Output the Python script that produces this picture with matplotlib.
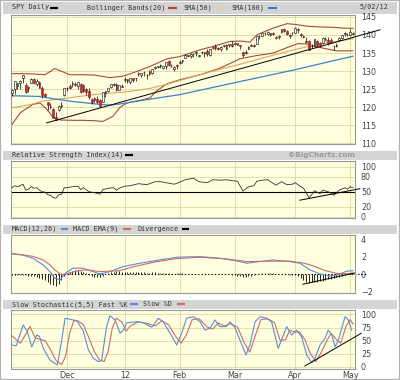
import numpy as np
import matplotlib
matplotlib.use('Agg')
import matplotlib.pyplot as plt
from matplotlib.lines import Line2D
from matplotlib.patches import Rectangle

plt.rcParams['font.family'] = ['DejaVu Sans']

# SPY daily, trading days Nov 2 2011 .. May 2 2012 (index 0..124)
opens = [123.9, 125.1, 126.0, 126.6, 128.0, 126.2, 125.4, 126.7, 127.8, 126.5,
         126.9, 125.4, 123.7, 121.4, 120.3, 119.5, 117.3, 119.3, 120.4, 123.3,
         125.2, 126.0, 126.8, 126.2, 125.9, 126.4, 124.6, 125.0, 124.5, 122.3,
         122.6, 122.4, 122.1, 121.6, 124.0, 124.6, 125.6, 126.2, 126.5, 124.9,
         125.8, 127.8, 127.2, 127.0, 128.2, 128.0, 129.4, 128.8, 129.8, 128.9,
         130.1, 129.5, 130.8, 131.0, 131.4, 130.9, 131.3, 132.8, 131.3, 130.6,
         131.8, 132.2, 132.8, 133.6, 134.1, 134.2, 134.7, 135.1, 134.1, 135.2,
         134.9, 135.5, 134.5, 136.6, 136.8, 136.2, 136.2, 137.1, 136.2, 137.1,
         137.6, 137.5, 137.7, 137.1, 135.3, 135.0, 136.2, 137.0, 137.1, 137.6,
         139.8, 139.8, 140.6, 140.2, 140.1, 140.6, 139.4, 139.3, 140.7, 141.7,
         141.1, 139.6, 140.7, 140.6, 141.6, 140.3, 139.4, 138.0, 138.2, 136.9,
         136.9, 138.4, 137.8, 137.7, 138.9, 138.7, 138.6, 136.9, 137.0, 138.5,
         139.1, 140.2, 140.1, 139.9, 140.2]
highs = [125.0, 127.4, 126.7, 127.5, 129.0, 126.8, 126.0, 128.1, 128.0, 127.8,
         127.3, 125.8, 124.0, 121.5, 121.2, 119.7, 118.6, 120.5, 121.4, 125.4,
         125.6, 126.5, 127.2, 127.0, 127.1, 126.6, 126.4, 125.2, 125.3, 122.6,
         122.9, 123.0, 122.2, 124.2, 124.6, 125.4, 126.4, 126.8, 126.6, 126.1,
         126.3, 128.4, 127.8, 128.2, 128.2, 128.2, 129.7, 129.6, 130.0, 129.3,
         130.3, 130.7, 131.5, 131.5, 132.0, 131.5, 132.5, 133.2, 132.1, 131.3,
         132.1, 133.0, 133.2, 134.7, 134.5, 135.0, 135.0, 135.5, 134.5, 135.5,
         135.2, 136.0, 136.2, 136.8, 137.4, 136.6, 136.8, 137.3, 137.4, 137.6,
         138.2, 138.0, 137.8, 137.3, 135.3, 135.7, 136.8, 137.5, 137.4, 139.7,
         140.1, 140.6, 140.7, 141.2, 140.6, 140.8, 139.7, 139.9, 141.6, 141.8,
         141.3, 140.2, 140.8, 142.2, 142.0, 140.4, 139.9, 139.4, 138.5, 137.4,
         139.0, 138.5, 138.0, 139.4, 139.3, 139.5, 139.2, 137.1, 137.7, 139.3,
         140.1, 140.9, 140.4, 141.6, 140.8]
lows = [123.2, 123.8, 125.0, 125.1, 126.6, 123.9, 124.3, 126.6, 126.3, 125.8,
        125.3, 122.7, 122.8, 119.3, 119.4, 117.0, 116.4, 119.1, 119.9, 123.2,
        124.6, 125.1, 125.7, 125.9, 125.1, 123.9, 124.3, 123.3, 122.2, 121.0,
        121.4, 121.2, 120.0, 121.5, 122.8, 124.3, 125.3, 126.0, 124.6, 124.7,
        125.5, 127.0, 126.7, 126.4, 127.1, 127.4, 128.7, 128.5, 128.7, 127.9,
        128.9, 129.3, 130.5, 130.8, 130.8, 130.6, 130.7, 131.4, 131.1, 130.1,
        130.6, 132.0, 132.3, 133.5, 133.9, 133.7, 134.0, 134.3, 133.9, 134.8,
        134.0, 134.3, 134.3, 136.1, 135.9, 135.7, 135.6, 136.6, 135.8, 136.7,
        136.7, 137.2, 137.1, 136.2, 133.8, 134.8, 136.0, 136.8, 136.7, 137.4,
        139.0, 139.6, 140.1, 140.1, 139.6, 140.0, 138.9, 138.8, 140.5, 140.9,
        139.9, 139.1, 139.9, 140.4, 140.6, 139.3, 139.2, 137.9, 135.8, 136.4,
        136.8, 137.0, 136.7, 137.6, 138.5, 137.2, 137.9, 135.8, 136.7, 138.5,
        138.9, 139.7, 139.6, 139.8, 140.0]
closes = [124.8, 127.2, 126.6, 127.4, 128.9, 124.3, 125.5, 127.9, 126.7, 127.3,
          125.3, 123.3, 123.1, 120.7, 120.2, 117.0, 116.6, 120.3, 120.6, 125.4,
          125.2, 125.2, 126.4, 126.4, 126.9, 124.3, 126.1, 124.1, 122.9, 121.5,
          121.9, 121.6, 120.3, 124.2, 124.4, 125.3, 126.4, 126.5, 124.8, 126.1,
          125.5, 127.5, 127.7, 128.0, 127.6, 128.0, 129.2, 129.5, 129.7, 129.0,
          129.3, 130.6, 131.2, 131.3, 131.5, 131.4, 132.5, 131.8, 131.5, 131.2,
          131.3, 132.6, 132.8, 134.5, 134.4, 134.6, 134.8, 135.2, 134.4, 135.2,
          135.2, 134.6, 136.1, 136.4, 136.4, 136.1, 136.6, 136.8, 137.1, 137.5,
          137.0, 137.7, 137.3, 136.8, 134.4, 135.3, 136.6, 137.1, 137.0, 139.6,
          139.6, 140.4, 140.5, 140.9, 140.4, 140.2, 139.2, 139.7, 141.6, 141.1,
          140.2, 140.0, 140.8, 141.8, 141.3, 139.9, 139.8, 138.2, 135.8, 136.9,
          138.9, 137.1, 137.1, 139.2, 138.7, 137.9, 138.0, 136.8, 137.3, 139.1,
          140.0, 140.4, 139.9, 140.9, 140.6]

month_pos = [20, 41, 61, 81, 103, 123]
month_labels = ['Dec', '12', 'Feb', 'Mar', 'Apr', 'May']

# Bollinger bands(20), SMA(50), SMA(100)
bb_up_x = [-0.4, 4, 8, 12, 15.6, 18.5, 21, 26, 30, 35.6, 40.5, 45, 50.2, 56.4, 61,
           68.4, 73, 79.3, 82.9, 86.5, 89, 95, 100, 103, 107.3, 112, 116.7, 120, 124]
bb_up = [129.3, 129.3, 129.2, 129.0, 130.7, 129.8, 129.0, 129.0, 128.9, 128.2, 128.6,
         129.8, 131.3, 133.4, 134.0, 135.9, 136.8, 138.2, 138.3, 138.0, 140.0, 141.9,
         143.1, 142.9, 142.4, 142.2, 142.1, 141.9, 141.8]
bb_lo_x = [-0.4, 3, 7.6, 10.2, 12.7, 14.9, 17.5, 22, 26, 30, 33, 36.7, 39.3, 41.8,
           46.5, 50.2, 52.7, 56.4, 61, 68.4, 75.6, 82.9, 89, 95, 100, 104, 107, 110,
           114, 118, 124]
bb_lo = [114.8, 118.5, 120.8, 121.2, 119.4, 117.3, 116.5, 116.4, 116.4, 116.3, 116.1,
         117.5, 120.0, 121.2, 121.9, 122.6, 124.6, 126.5, 127.6, 129.0, 130.8, 133.4,
         134.3, 135.0, 136.5, 137.6, 137.5, 136.9, 136.2, 135.6, 135.6]
sma50_x = [-0.4, 7, 11, 18.5, 29.5, 42, 50, 56, 61, 68.4, 75, 82.5, 92, 103, 112, 124]
sma50 = [119.8, 120.8, 121.7, 122.4, 123.5, 124.3, 125.2, 126.3, 127.4, 129.0, 130.4,
         131.8, 133.8, 136.0, 137.5, 138.9]
sma100_x = [-0.4, 10, 14, 21, 32, 36, 40, 48, 61, 80.4, 103, 117, 124]
sma100 = [123.2, 123.0, 122.5, 121.7, 120.8, 120.6, 121.0, 122.0, 123.5, 126.7, 130.4,
          132.9, 134.1]
trend_x = [12.6, 133.8]
trend_y = [115.7, 141.4]

# RSI(14)
rsi_x = [0, 1, 2, 3, 4, 5, 6, 7, 8, 9, 10, 11, 12, 13, 14, 15, 16, 17, 18, 19, 20, 22,
         24, 25, 26, 28, 30, 32, 33, 35, 37, 38, 39, 41, 43, 46, 49, 52, 54, 57, 59, 61,
         63, 66, 68, 71, 73, 76, 78, 80, 82, 84, 86, 88, 89, 91, 93, 96, 98, 100, 102,
         103, 105, 106, 108, 109, 110, 112, 113, 115, 117, 119, 121, 122, 123, 124]
rsi = [58, 62, 60, 62, 65, 53, 55, 60, 57, 58, 53, 50, 49, 44, 43, 38, 37, 44, 45, 58,
       58, 60, 61, 54, 58, 50, 48, 45, 54, 57, 58, 53, 57, 61, 62, 66, 64, 70, 70, 67,
       65, 69, 74, 77, 70, 68, 74, 73, 74, 72, 71, 51, 60, 62, 71, 73, 74, 63, 70, 64,
       65, 68, 60, 57, 38, 44, 52, 46, 53, 50, 43, 53, 58, 55, 60, 58]
rsi_trend_x = [104.7, 126.5]
rsi_trend_y = [33, 56]

# MACD(12,26), EMA(9), divergence
macd_x = [-0.4, 4, 7.6, 11.3, 13.8, 15.6, 17.5, 19.3, 22.2, 25.8, 29.5, 32, 35.6, 40.4,
          46.5, 53.8, 60, 68.4, 75.6, 82.9, 85.5, 90.2, 94.9, 101, 104.7, 108.4, 112,
          115.6, 118.2, 121.8, 124]
macd = [2.35, 2.2, 1.83, 1.07, 0.3, -0.46, -0.66, 0.1, 0.69, 0.69, 0.3, 0.03, 0.3, 0.88,
        1.26, 1.64, 1.95, 2.02, 1.84, 1.45, 1.26, 1.45, 1.64, 1.45, 1.26, 0.49, 0.03,
        -0.2, -0.08, 0.35, 0.4]
signal_x = [-0.4, 7.6, 11.3, 13.8, 15.6, 17.5, 19.3, 21.1, 24, 27.3, 32, 38.9, 44.7,
            52.7, 60, 68.4, 78, 85.5, 94.5, 101, 106.5, 110, 113.5, 118, 122, 124]
signal = [2.4, 2.05, 1.64, 1.07, 0.49, 0.03, -0.08, 0.18, 0.4, 0.5, 0.3, 0.4, 0.9, 1.45,
          1.8, 1.95, 1.75, 1.45, 1.5, 1.5, 1.25, 0.9, 0.45, 0.1, 0.05, 0.15]
divergence = [-0.05, -0.05, -0.08, -0.1, -0.1, -0.12, -0.15, -0.18,
              -0.22, -0.3, -0.4, -0.55, -0.7, -0.9, -1.1, -1.25, -1.3, -1.1, -0.7, -0.25,
              0.1, 0.25, 0.4, 0.5, 0.5, 0.4, 0.25, 0.1,
              -0.1, -0.2, -0.3, -0.35, -0.3, -0.15,
              0.05, 0.15, 0.25, 0.3, 0.35, 0.35, 0.3, 0.3, 0.25, 0.25, 0.2, 0.2, 0.25, 0.2,
              0.2, 0.15, 0.15, 0.2, 0.2, 0.15, 0.15, 0.1, 0.15, 0.1, 0.05, 0.05, 0.1, 0.1,
              0.1, 0.05,
              0.05, 0.05, 0.0, 0.05, 0.0, 0.0, -0.03, 0.0, 0.03, 0.03, 0.0, -0.03, 0.0, 0.0,
              0.03, 0.0, -0.05,
              -0.1, -0.15, -0.2, -0.3, -0.3, -0.25, -0.2, -0.1,
              0.0, 0.05, 0.1, 0.12, 0.12, 0.1, 0.1, 0.05, 0.05,
              0.05, 0.05, 0.0, -0.05, -0.05, -0.1,
              -0.2, -0.4, -0.7, -0.95, -1.0, -0.95, -0.9, -0.85, -0.8, -0.75, -0.65, -0.55,
              -0.5, -0.45, -0.35,
              -0.3, -0.2, -0.1, 0.05, 0.15, 0.1]
macd_trend_x = [105.8, 124.5]
macd_trend_y = [-1.15, 0.13]

# Slow stochastic(5,5)
stk_x = [-0.1, 1.5, 4.1, 5.5, 7.2, 9, 10, 11.4, 13.8, 15.6, 16.5, 18, 19.3, 21, 23.5,
         25.8, 27.8, 29.6, 31.4, 32.6, 34.4, 35.6, 37.5, 39.3, 40.5, 41.7, 45.3, 47.8,
         50.8, 53.2, 55, 57.5, 59.9, 61.7, 63.5, 65.9, 68.4, 70.2, 72, 73.8, 75.6, 78,
         79.3, 81, 82.9, 85.1, 86.5, 88.4, 90.2, 92.6, 94.4, 96.8, 98.7, 99.9, 101.7,
         103.5, 105.3, 107.2, 109, 110.2, 112, 113.8, 115, 116.3, 117.5, 118.7, 121.1,
         122.3, 123.5]
stk = [41.6, 40, 80, 68, 38, 60.7, 58, 35, 12.8, 6.4, 3.3, 48, 92.7, 91, 88, 70, 32, 16,
       9.6, 12.8, 76.6, 97.7, 89.5, 64, 70, 84, 86, 84, 75.5, 92.7, 86, 64, 41.6, 64,
       92.7, 95.8, 86, 70, 73.5, 89.5, 76.6, 77, 86, 75.5, 51, 22.4, 41.6, 86, 95.8,
       92.7, 86, 35, 60.7, 76.6, 60.7, 70, 57.5, 22.4, 7.7, 16, 41.6, 54.4, 70, 60.7,
       38.3, 51, 95.8, 89.5, 70]
std_x = [-0.4, 1.5, 3, 5, 6.5, 8.5, 10.5, 12, 14, 16, 18, 19.5, 21, 22.5, 24, 26, 28,
         30, 32, 33.5, 35, 36.5, 38, 40, 41.5, 43, 46, 49, 52, 54.5, 57, 59.5, 61.5, 63.5,
         65.5, 68, 71, 73, 75, 77, 79.5, 82, 84.5, 86.5, 88.5, 90.5, 93, 95.5, 97.5, 99.5,
         101, 103, 104.5, 106.5, 108.5, 110.5, 112.5, 114.5, 116, 118, 119.5, 121.5, 123,
         124]
std = [61, 52, 45, 62, 77, 55, 52, 50, 33, 12, 4, 20, 65, 88, 88, 80, 55, 28, 12, 10,
       30, 75, 93, 85, 68, 78, 86, 83, 78, 88, 80, 58, 45, 62, 90, 92, 76, 72, 84, 78,
       82, 76, 45, 28, 60, 90, 92, 84, 50, 52, 70, 66, 67, 52, 25, 10, 28, 50, 64, 52,
       45, 78, 90, 82]
stoch_trend_x = [106.5, 127]
stoch_trend_y = [1.3, 64]

# colours
BG = '#ffffe0'
GRID = '#dcd9a4'
BAR = '#d4d4d4'
TXT = '#333333'
BB_C = '#a84a3c'
SMA50_C = '#d9a85a'
SMA100_C = '#3f7fcf'
BLUE = '#5a8ed6'
PINK = '#cc6b6b'

W, H = 400, 380
fig = plt.figure(figsize=(4, 3.8), dpi=100)


def fx(x):
    return x / W


def fy(y):
    return 1 - y / H


def header(y0, y1):
    fig.add_artist(Rectangle((fx(3), fy(y1)), (397 - 3) / W, (y1 - y0) / H,
                             transform=fig.transFigure, facecolor=BAR,
                             edgecolor='none', zorder=0))


def label(x, y, s, **kw):
    fig.text(fx(x), fy(y), s, fontsize=4.85, family='DejaVu Sans Mono',
             color=TXT, va='center', ha='left', zorder=5, **kw)


def swatch(x0, x1, y, c):
    fig.add_artist(Line2D([fx(x0), fx(x1)], [fy(y), fy(y)], transform=fig.transFigure,
                          color=c, lw=1.6, solid_capstyle='butt', zorder=5))


def panel(top, bottom, ylim, yticks, ygrid=True):
    ax = fig.add_axes([fx(11), fy(bottom), (355 - 11) / W, (bottom - top) / H])
    ax.set_facecolor(BG)
    ax.set_xlim(-0.36, 124.73)
    ax.set_ylim(ylim)
    ax.set_yticks(yticks)
    ax.yaxis.tick_right()
    ax.tick_params(axis='y', length=0, pad=4.3, labelsize=5.8, labelcolor='#444444')
    ax.set_xticks(month_pos)
    ax.tick_params(axis='x', length=0, labelbottom=False)
    ax.grid(True, axis='x', color=GRID, lw=0.6)
    if ygrid:
        ax.grid(True, axis='y', color=GRID, lw=0.6)
    ax.set_axisbelow(True)
    for s in ax.spines.values():
        s.set_color('#999999')
        s.set_linewidth(0.8)
    return ax


# outer frame and header bars
fig.add_artist(Rectangle((0, 0), 1, 1, transform=fig.transFigure, facecolor='none',
                         edgecolor='#b4b4b4', lw=1.6, zorder=0))
header(1.5, 13.5)
header(150.5, 159.5)
header(224.5, 233.5)
header(300, 308.5)

# header texts
label(12, 7.5, 'SPY Daily')
swatch(50, 58, 7.5, 'black')
label(87, 7.5, 'Bollinger Bands(20)')
swatch(168, 177, 7.5, BB_C)
label(184, 7.5, 'SMA(50)')
swatch(217, 225, 7.5, '#e8cf8a')
label(232, 7.5, 'SMA(100)')
swatch(268, 277, 7.5, SMA100_C)
label(360, 7.5, '5/02/12')

label(12, 155, 'Relative Strength Index(14)')
swatch(125, 133, 155, 'black')
fig.text(fx(355), fy(155), '\u00a9BigCharts.com', fontsize=5.2, weight='bold',
         color='#9a9a9a', va='center', ha='right', zorder=5)

label(12, 229, 'MACD(12,26)')
swatch(61, 68, 229, BLUE)
label(73, 229, 'MACD EMA(9)')
swatch(123, 131, 229, PINK)
label(137, 229, 'Divergence')
swatch(182, 189, 229, 'black')

label(12, 304.3, 'Slow Stochastic(5,5) Fast %K')
swatch(130, 138, 304.3, BLUE)
label(143, 304.3, 'Slow %D')
swatch(177, 185, 304.3, PINK)

# price panel
ax1 = panel(15, 143.5, (110, 145.5), [110, 115, 120, 125, 130, 135, 140, 145])
ax1.plot(bb_up_x, bb_up, color=BB_C, lw=0.8, zorder=2)
ax1.plot(bb_lo_x, bb_lo, color=BB_C, lw=0.8, zorder=2)
ax1.plot(sma50_x, sma50, color=SMA50_C, lw=0.8, zorder=2)
ax1.plot(sma100_x, sma100, color=SMA100_C, lw=0.9, zorder=2)
ax1.plot(trend_x, trend_y, color='black', lw=0.7, zorder=4, clip_on=False)

days = np.arange(len(closes))
o = np.array(opens)
c = np.array(closes)
up = c >= o
bottoms = np.minimum(o, c)
heights = np.maximum(np.abs(c - o), 0.15)
ax1.vlines(days, lows, highs, color='black', lw=0.5, zorder=3)
ax1.bar(days[up], heights[up], bottom=bottoms[up], width=0.62, color='white',
        edgecolor='black', linewidth=0.4, zorder=3.5)
ax1.bar(days[~up], heights[~up], bottom=bottoms[~up], width=0.62, color='#d42a2a',
        edgecolor='#7a1a1a', linewidth=0.4, zorder=3.5)

# RSI panel
ax2 = panel(161, 218, (-2.6, 111.4), [0, 20, 50, 80, 100])
ax2.axhline(50, color='black', lw=0.8, zorder=2)
ax2.plot(rsi_x, rsi, color='#333333', lw=0.6, zorder=3)
ax2.plot(rsi_trend_x, rsi_trend_y, color='black', lw=0.7, zorder=4, clip_on=False)

# MACD panel
ax3 = panel(235, 292.5, (-2.1, 4.5), [-2, 0, 2, 4], ygrid=False)
ax3.vlines(days, 0, divergence, color='black', lw=0.6, zorder=2)
ax3.plot([-0.36, 129], [0, 0], color='black', lw=0.8, ls=(0, (1.2, 1.8)),
         zorder=2, clip_on=False)
ax3.plot(macd_x, macd, color=BLUE, lw=0.8, zorder=3)
ax3.plot(signal_x, signal, color=PINK, lw=0.8, zorder=3)
ax3.plot(macd_trend_x, macd_trend_y, color='black', lw=0.7, zorder=4, clip_on=False)

# stochastic panel
ax4 = panel(310, 369, (-4.4, 108.6), [0, 25, 50, 75, 100])
ax4.plot(std_x, std, color=PINK, lw=0.8, zorder=3)
ax4.plot(stk_x, stk, color=BLUE, lw=0.8, zorder=3)
ax4.plot(stoch_trend_x, stoch_trend_y, color='black', lw=0.7, zorder=4, clip_on=False)
ax4.set_xticklabels(month_labels)
ax4.tick_params(axis='x', labelbottom=True, labelsize=5.8, pad=1.5, labelcolor='#444444')

plt.savefig('out.png', dpi=100)
